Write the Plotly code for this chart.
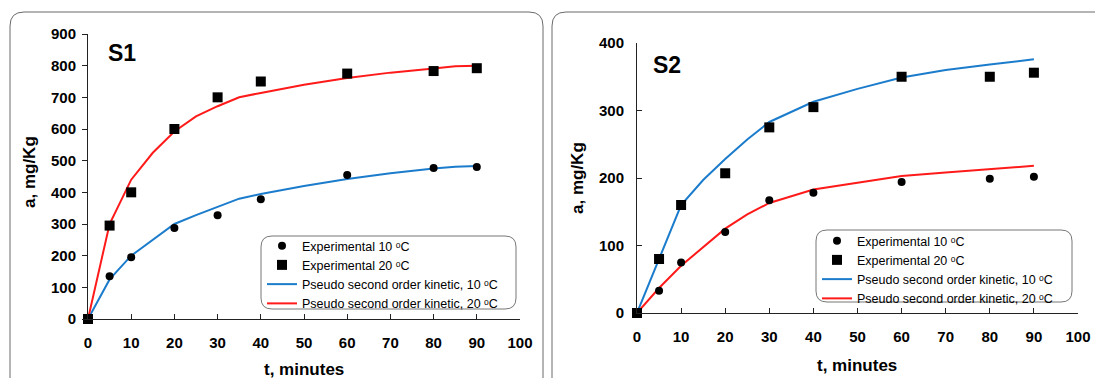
import plotly.graph_objects as go

W, H = 1095, 378

# ---------------- data ----------------
t_exp = [0, 5, 10, 20, 30, 40, 60, 80, 90]

s1_exp10 = [0, 135, 195, 287, 328, 378, 455, 477, 480]
s1_exp20 = [0, 295, 400, 600, 700, 750, 775, 783, 792]

s2_exp10 = [0, 33, 75, 120, 167, 178, 194, 199, 202]
s2_exp20 = [0, 80, 160, 207, 275, 305, 350, 350, 356]

t_fit = [0, 5, 10, 15, 20, 25, 30, 35, 40, 50, 60, 70, 80, 85, 90]
s1_fit10 = [0, 125, 200, 250, 300, 328, 355, 380, 395, 420, 442, 460, 475, 481, 483]
s1_fit20 = [0, 300, 440, 525, 592, 640, 672, 700, 714, 740, 761, 778, 791, 798, 800]

t_fit2 = [0, 5, 10, 15, 20, 25, 30, 40, 50, 60, 70, 80, 90]
s2_fit_blue = [0, 80, 160, 197, 228, 257, 283, 313, 332, 349, 360, 368, 376]
s2_fit_red = [0, 37, 70, 98, 125, 146, 163, 183, 193, 203, 208, 213, 218]

x_ticks = [0, 10, 20, 30, 40, 50, 60, 70, 80, 90, 100]
s1_yticks = [0, 100, 200, 300, 400, 500, 600, 700, 800, 900]
s2_yticks = [0, 100, 200, 300, 400]

names = ["Experimental 10 \u1d52C", "Experimental 20 \u1d52C",
         "Pseudo second order kinetic, 10 \u1d52C",
         "Pseudo second order kinetic, 20 \u1d52C"]

BLUE = "#1c7ccc"
RED = "#ff1a1a"
FONT = "Liberation Sans"


def px(x):
    return x / W


def py(y):
    return 1 - y / H


def rounded(x0, y0, x1, y1, r):
    # pixel coords (top-left origin) -> paper path
    rx, ry = r / W, r / H
    X0, X1 = px(x0), px(x1)
    Y0, Y1 = py(y0), py(y1)  # Y0 top (larger), Y1 bottom
    return (f"M{X0+rx},{Y0} L{X1-rx},{Y0} Q{X1},{Y0} {X1},{Y0-ry} "
            f"L{X1},{Y1+ry} Q{X1},{Y1} {X1-rx},{Y1} L{X0+rx},{Y1} "
            f"Q{X0},{Y1} {X0},{Y1+ry} L{X0},{Y0-ry} Q{X0},{Y0} {X0+rx},{Y0} Z")


fig = go.Figure()


def add_panel(xa, ya, leg, ex10, ex20, tf, f10, f20):
    # lines first (drawn below), markers on top; legend order set via legendrank
    fig.add_trace(go.Scatter(x=tf, y=f10, mode="lines", line=dict(color=BLUE, width=2),
                             name=names[2], legend=leg, legendrank=3, xaxis=xa, yaxis=ya,
                             cliponaxis=False))
    fig.add_trace(go.Scatter(x=tf, y=f20, mode="lines", line=dict(color=RED, width=2),
                             name=names[3], legend=leg, legendrank=4, xaxis=xa, yaxis=ya,
                             cliponaxis=False))
    fig.add_trace(go.Scatter(x=t_exp, y=ex10, mode="markers",
                             marker=dict(symbol="circle", size=8, color="black"),
                             name=names[0], legend=leg, legendrank=1, xaxis=xa, yaxis=ya,
                             cliponaxis=False))
    fig.add_trace(go.Scatter(x=t_exp, y=ex20, mode="markers",
                             marker=dict(symbol="square", size=10, color="black"),
                             name=names[1], legend=leg, legendrank=2, xaxis=xa, yaxis=ya,
                             cliponaxis=False))


# S1: blue fit for 10 oC (circles), red fit for 20 oC (squares)
add_panel("x", "y", "legend", s1_exp10, s1_exp20, t_fit, s1_fit10, s1_fit20)
# S2: as drawn in the reference, blue curve follows squares, red follows circles
add_panel("x2", "y2", "legend2", s2_exp10, s2_exp20, t_fit2, s2_fit_blue, s2_fit_red)

tickfont = dict(family=FONT, size=15, color="black", weight="bold")
axis_common = dict(showgrid=False, zeroline=False, showline=True, linecolor="#222", linewidth=1,
                   ticklen=5, tickcolor="#222", tickfont=tickfont, automargin=False, fixedrange=True)

legend_font = dict(family=FONT, size=12.5, color="black")

fig.update_layout(
    width=W, height=H,
    margin=dict(l=0, r=0, t=0, b=0),
    paper_bgcolor="white", plot_bgcolor="rgba(0,0,0,0)",
    font=dict(family=FONT, color="black", size=13),
    xaxis=dict(domain=[px(88), px(520)], range=[0, 100], tickvals=x_ticks, ticks="inside",
               anchor="y", ticklabelstandoff=10, **axis_common),
    yaxis=dict(domain=[py(319), py(34)], range=[0, 900], tickvals=s1_yticks, ticks="outside",
               anchor="x", ticklabelstandoff=3, **axis_common),
    xaxis2=dict(domain=[px(637), px(1078)], range=[0, 100], tickvals=x_ticks, ticks="inside",
                anchor="y2", ticklabelstandoff=10, **axis_common),
    yaxis2=dict(domain=[py(313), py(43)], range=[0, 400], tickvals=s2_yticks, ticks="inside",
                anchor="x2", ticklabelstandoff=9, **axis_common),
    legend=dict(x=px(262), y=py(231), xanchor="left", yanchor="top", bgcolor="rgba(0,0,0,0)",
                borderwidth=0, font=legend_font,
                itemwidth=30, tracegroupgap=0, traceorder="normal"),
    legend2=dict(x=px(817), y=py(226), xanchor="left", yanchor="top", bgcolor="rgba(0,0,0,0)",
                 borderwidth=0, font=legend_font,
                 itemwidth=30, tracegroupgap=0, traceorder="normal"),
    showlegend=True,
)

shapes = [
    dict(type="path", xref="paper", yref="paper", path=rounded(10, 12, 543, 392, 14),
         line=dict(color="#6a6a6a", width=1), layer="below"),
    dict(type="path", xref="paper", yref="paper", path=rounded(552, 12, 1110, 392, 14),
         line=dict(color="#6a6a6a", width=1), layer="below"),
    dict(type="path", xref="paper", yref="paper", path=rounded(261, 236, 516, 309, 11),
         line=dict(color="#777", width=1), fillcolor="white", layer="below"),
    dict(type="path", xref="paper", yref="paper", path=rounded(816, 230, 1072, 302, 11),
         line=dict(color="#777", width=1), fillcolor="white", layer="below"),
]
fig.update_layout(shapes=shapes)

ann_title = dict(family=FONT, size=17, color="black", weight="bold")
base = dict(xref="paper", yref="paper", showarrow=False, xanchor="center", yanchor="middle")
annotations = [
    dict(text="S1", x=px(122), y=py(53), font=dict(family=FONT, size=23, color="black", weight="bold"), **base),
    dict(text="S2", x=px(667), y=py(65), font=dict(family=FONT, size=23, color="black", weight="bold"), **base),
    dict(text="t, minutes", x=px(304), y=py(369), font=ann_title, **base),
    dict(text="t, minutes", x=px(857), y=py(365), font=ann_title, **base),
    dict(text="a, mg/Kg", x=px(29), y=py(172), textangle=-90, font=ann_title, **base),
    dict(text="a, mg/Kg", x=px(577), y=py(178), textangle=-90, font=ann_title, **base),
]
fig.update_layout(annotations=annotations)

fig.write_html("out.html")
